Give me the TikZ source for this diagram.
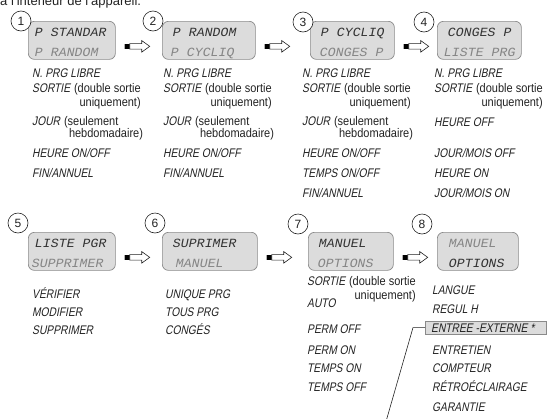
\documentclass[tikz,border=0pt]{standalone}
\usepackage{fontspec}
\setmainfont{Liberation Sans}
\newfontfamily\lcdmono[FakeSlant=0.2,FakeStretch=1.06]{Liberation Mono}
\newfontfamily\lcdfont[FakeSlant=0.2,FakeStretch=0.82]{Liberation Sans}
\newfontfamily\notefont[FakeStretch=0.88]{Liberation Sans}
\usetikzlibrary{calc,positioning}
\definecolor{lcdfill}{HTML}{DCDCDC}
\definecolor{lcdedge}{HTML}{8A8A8A}
\definecolor{segon}{HTML}{333333}
\definecolor{segoff}{HTML}{858585}
\definecolor{ink}{HTML}{222222}
\tikzset{
  steparrow/.pic={
    \fill[black] (0,-2.8) rectangle (6,2.8);
    \fill[gray!60] (0,-2.8) rectangle (1.5,2.8);
    \draw[ink,line width=0.6pt,fill=white,line join=miter]
      (6,-2.8) -- (18,-2.8) -- (18,-5.8) -- (26,0) -- (18,5.8) -- (18,2.8) -- (6,2.8) -- cycle;
  }
}
\begin{document}
\begin{tikzpicture}[x=1pt,y=-1pt,
  lcdbox/.style={draw=lcdedge,fill=lcdfill,rounded corners=6pt,line width=0.7pt,
    minimum height=38pt,anchor=north west,inner sep=0pt},
  numcircle/.style={circle,draw=ink,fill=white,line width=0.6pt,minimum size=20pt,
    inner sep=0pt,text=ink,font=\fontsize{12}{12}\selectfont},
  lcdline/.style={anchor=base west,inner sep=0pt,text=segon,
    font=\lcdmono\fontsize{12.5}{12.5}\selectfont},
  lcddim/.style={lcdline,text=segoff},
  item/.style={anchor=base west,inner sep=0pt,text=ink,
    font=\lcdfont\fontsize{12.5}{12.5}\selectfont},
  note/.style={inner sep=0pt,text=ink,font=\notefont\fontsize{12.5}{12.5}\selectfont},
  extbox/.style={draw=lcdedge,fill=lcdfill,line width=0.6pt,anchor=north west,
    inner sep=0pt,minimum width=121pt,minimum height=12.5pt}
]
\useasboundingbox (0,0) rectangle (548,418);
\clip (0,0) rectangle (548,418);

% cut-off line from the page above
\node[anchor=base west,inner sep=0pt,text=ink,font=\fontsize{13}{13}\selectfont] (intro) at (0,5.5)
  {à l'intérieur de l'appareil.};

% row 1 displays
\node[lcdbox,minimum width=87pt] (b1) at (28,21) {};
\node[lcdline] (b1a) at ($(b1.north west)+(6,15.5)$) {P STANDAR};
\node[lcddim]  (b1b) at ($(b1.north west)+(6,35)$) {P RANDOM};
\node[numcircle] (n1) at ($(b1.north west)+(-7,0)$) {1};

\node[lcdbox,minimum width=93pt] (b2) at (162,21) {};
\node[lcdline] (b2a) at ($(b2.north west)+(10,15.5)$) {P RANDOM};
\node[lcddim]  (b2b) at ($(b2.north west)+(8,35)$) {P CYCLIQ};
\node[numcircle] (n2) at ($(b2.north west)+(-9,0)$) {2};

\node[lcdbox,minimum width=84pt] (b3) at (310,21) {};
\node[lcdline] (b3a) at ($(b3.north west)+(10,15.5)$) {P CYCLIQ};
\node[lcddim]  (b3b) at ($(b3.north west)+(9,35)$) {CONGES P};
\node[numcircle] (n3) at ($(b3.north west)+(-7,1)$) {3};

\node[lcdbox,minimum width=84pt] (b4) at (437,21) {};
\node[lcdline] (b4a) at ($(b4.north west)+(10,15.5)$) {CONGES P};
\node[lcddim]  (b4b) at ($(b4.north west)+(6,35)$) {LISTE PRG};
\node[numcircle] (n4) at ($(b4.north west)+(-13,1)$) {4};

% row 2 displays
\node[lcdbox,minimum width=87pt] (b5) at (28,232) {};
\node[lcdline] (b5a) at ($(b5.north west)+(6,15)$) {LISTE PGR};
\node[lcddim]  (b5b) at ($(b5.north west)+(3,35)$) {SUPPRIMER};
\node[numcircle] (n5) at ($(b5.north west)+(-10,-9)$) {5};

\node[lcdbox,minimum width=95pt] (b6) at (162,232) {};
\node[lcdline] (b6a) at ($(b6.north west)+(10,15)$) {SUPRIMER};
\node[lcddim]  (b6b) at ($(b6.north west)+(13,35)$) {MANUEL};
\node[numcircle] (n6) at ($(b6.north west)+(-7,-9)$) {6};

\node[lcdbox,minimum width=85pt] (b7) at (308,232) {};
\node[lcdline] (b7a) at ($(b7.north west)+(10,15)$) {MANUEL};
\node[lcddim]  (b7b) at ($(b7.north west)+(9,35)$) {OPTIONS};
\node[numcircle] (n7) at ($(b7.north west)+(-10,-8)$) {7};

\node[lcdbox,minimum width=81pt] (b8) at (437,232) {};
\node[lcddim]  (b8a) at ($(b8.north west)+(11,15)$) {MANUEL};
\node[lcdline] (b8b) at ($(b8.north west)+(11,35)$) {OPTIONS};
\node[numcircle] (n8) at ($(b8.north west)+(-15,-8)$) {8};

% arrows between displays
\foreach \b in {b1,b2,b3,b5,b6,b7}
  \pic at ($(\b.east)+(8,6)$) {steparrow};

% row 1 lists
\foreach \c/\x in {1/32,2/163,3/302,4/434} {
  \node[item] (prg\c) at (\x,77.5) {N. PRG LIBRE};
  \node[item] (so\c) at (\x,92.5) {SORTIE};
  \node[note,anchor=base west] (ds\c) at ($(so\c.base east)+(3.5,0)$) {(double sortie};
  \node[note,anchor=base east] (uq\c) at ($(ds\c.base east)+(0,14)$) {uniquement)};
}
\foreach \c/\x in {1/32,2/163,3/302} {
  \node[item] (jr\c) at (\x,125.5) {JOUR};
  \node[note,anchor=base west] (sl\c) at ($(jr\c.base east)+(3.5,0)$) {(seulement};
  \node[note,anchor=base west] (hb\c) at ($(sl\c.base west)+(5,12)$) {hebdomadaire)};
  \node[item] (hr\c) at (\x,157.5) {HEURE ON/OFF};
}
\node[item] (fin1) at (32,177.5) {FIN/ANNUEL};
\node[item] (fin2) at (163,177.5) {FIN/ANNUEL};
\node[item] (tp3) at (302,177.5) {TEMPS ON/OFF};
\node[item] (fin3) at (302,197.5) {FIN/ANNUEL};
\node[item] (hoff4) at (434,126) {HEURE OFF};
\node[item] (jmoff4) at (434,157.5) {JOUR/MOIS OFF};
\node[item] (hon4) at (434,177.5) {HEURE ON};
\node[item] (jmon4) at (434,197.5) {JOUR/MOIS ON};

% row 2 lists
\node[item] (ver5) at (32,298) {VÉRIFIER};
\node[item] (mod5) at (32,316) {MODIFIER};
\node[item] (sup5) at (32,334) {SUPPRIMER};
\node[item] (uni6) at (165,298) {UNIQUE PRG};
\node[item] (tous6) at (165,316) {TOUS PRG};
\node[item] (cong6) at (165,334) {CONGÉS};

\node[item] (so7) at (307,285.5) {SORTIE};
\node[note,anchor=base west] (ds7) at ($(so7.base east)+(3.5,0)$) {(double sortie};
\node[note,anchor=base east] (uq7) at ($(ds7.base east)+(0,14)$) {uniquement)};
\node[item] (auto7) at (307,307) {AUTO};
\node[item] (poff7) at (307,333) {PERM OFF};
\node[item] (pon7) at (307,354.5) {PERM ON};
\node[item] (ton7) at (307,372.5) {TEMPS ON};
\node[item] (toff7) at (307,391.5) {TEMPS OFF};

\node[item] (lang8) at (432,294.5) {LANGUE};
\node[item] (reg8) at (432,313.5) {REGUL H};
\node[extbox] (ext) at (425,321) {};
\node[item] (ext8) at ($(ext.west)+(6,4.5)$) {ENTREE -EXTERNE *};
\node[item] (entr8) at (432,354.5) {ENTRETIEN};
\node[item] (cpt8) at (432,372.5) {COMPTEUR};
\node[item] (retro8) at (432,391.5) {RÉTROÉCLAIRAGE};
\node[item] (gar8) at (432,411.5) {GARANTIE};

% leader to the footnote
\coordinate (lead) at (385,425);
\draw[ink,line width=0.6pt] (ext.west) -- ++(-12,0) -- (lead);
\end{tikzpicture}
\end{document}
